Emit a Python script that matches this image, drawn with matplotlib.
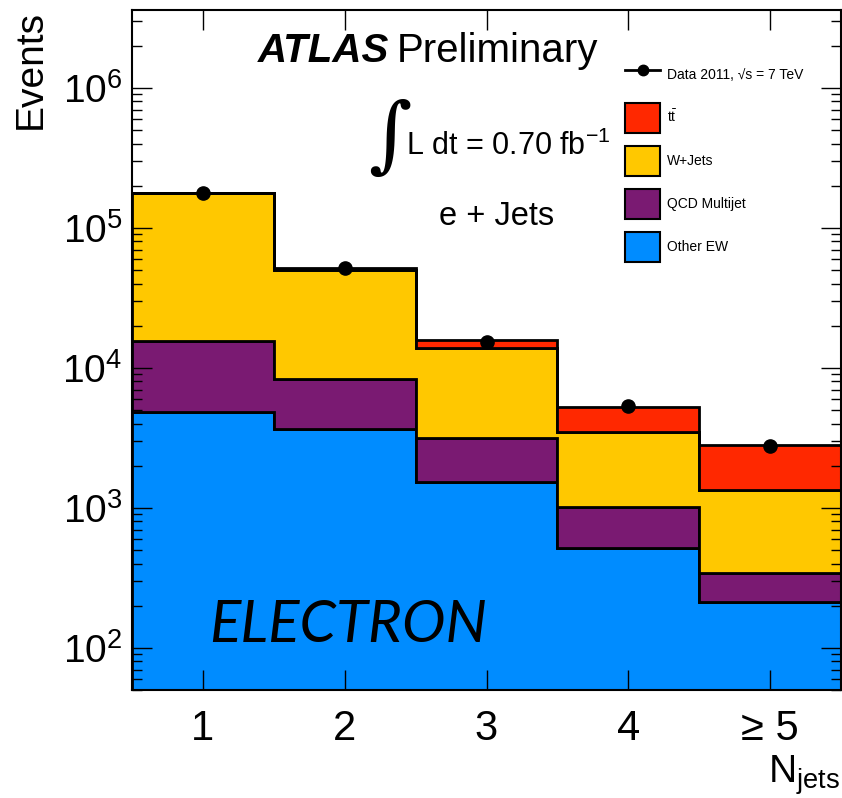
import numpy as np
import matplotlib
matplotlib.use('Agg')
import matplotlib.pyplot as plt
from matplotlib.lines import Line2D
from matplotlib.patches import Patch
from matplotlib.ticker import NullLocator

plt.rcParams['font.family'] = ['Liberation Sans', 'DejaVu Sans']
plt.rcParams['mathtext.fontset'] = 'custom'
plt.rcParams['mathtext.rm'] = 'Liberation Sans'
plt.rcParams['mathtext.it'] = 'Liberation Sans:italic'
plt.rcParams['mathtext.bf'] = 'Liberation Sans:bold'
plt.rcParams['mathtext.sf'] = 'Liberation Sans'

# jet multiplicity bins (last one is inclusive)
njets = [1, 2, 3, 4, 5]
njets_labels = ['1', '2', '3', '4', '\u2265 5']

# stacked MC expectations, bottom to top
other_ew = [4830, 3650, 1540, 520, 214]
qcd = [10600, 4700, 1610, 500, 128]
wjets = [162000, 42000, 10650, 2450, 998]
ttbar = [600, 1500, 2050, 1820, 1450]

# observed events
data = [177000, 52000, 15200, 5300, 2760]

stack = [
    (other_ew, '#008cff', 'Other EW'),
    (qcd, '#7a1a72', 'QCD Multijet'),
    (wjets, '#ffc800', 'W+Jets'),
    (ttbar, '#ff2800', r'$\mathrm{t\bar{t}}$'),
]

W, H = 842, 798


def fx(px):
    return px / W


def fy(py):
    return 1 - py / H


fig = plt.figure(figsize=(W / 100, H / 100), dpi=100)
ax = fig.add_axes([fx(132), fy(690), fx(841) - fx(132), fy(10) - fy(690)])

edges = np.arange(0.5, 6.0, 1.0)
bottom = np.zeros(len(njets))
for vals, color, name in stack:
    top = bottom + np.array(vals, dtype=float)
    ax.stairs(top, edges, baseline=np.maximum(bottom, 1.0), fill=True,
              facecolor=color, edgecolor='black', linewidth=2.0)
    bottom = top

ax.plot(njets, data, 'o', color='black', markersize=9.5, zorder=5)

ax.set_yscale('log')
ax.set_ylim(50, 3.6e6)
ax.set_xlim(0.5, 5.5)
ax.set_xticks(njets)
ax.set_xticklabels(njets_labels)
ax.xaxis.set_minor_locator(NullLocator())

ax.tick_params(which='both', direction='in', top=True, right=True, width=1.0)
ax.tick_params(which='major', length=14.4)
ax.tick_params(which='minor', length=7.2)
ax.tick_params(axis='y', labelsize=28, pad=7)
ax.tick_params(axis='x', labelsize=30, pad=14)
for s in ax.spines.values():
    s.set_linewidth(1.5)

# legend
handles = [Line2D([], [], color='black', marker='o', markersize=7.5, linewidth=2)]
labels = ['Data 2011, \u221as = 7 TeV']
for vals, color, name in reversed(stack):
    handles.append(Patch(facecolor=color, edgecolor='black', linewidth=1.5))
    labels.append(name)
ax.legend(handles, labels, loc='upper left',
          bbox_to_anchor=((625 - 132) / (841 - 132), (690 - 60) / 680),
          frameon=False, fontsize=10, borderpad=0, borderaxespad=0,
          handlelength=2.52, handleheight=2.94, labelspacing=0.94,
          handletextpad=0.5)

# labels and annotations
fig.text(fx(258), fy(62), 'ATLAS', fontsize=29, fontweight='bold',
         fontstyle='italic', va='baseline')
fig.text(fx(397), fy(62), 'Preliminary', fontsize=29, va='baseline')
fig.text(fx(368), fy(139), '\u222b', fontsize=60, va='center',
         family='DejaVu Serif')
fig.text(fx(406), fy(155), r'L dt = 0.70 fb$^{\mathdefault{-1}}$',
         fontsize=22, va='baseline')
fig.text(fx(439), fy(225), 'e + Jets', fontsize=23.5, va='baseline')
fig.text(fx(209), fy(642), 'ELECTRON', fontsize=42, fontstyle='italic',
         family='Lato', va='baseline')
fig.text(fx(31), fy(10), 'Events', fontsize=28, rotation=90,
         ha='center', va='top')
fig.text(fx(840), fy(783), r'N$_{\mathdefault{jets}}$', fontsize=28,
         ha='right', va='baseline')

fig.savefig('out.png', dpi=100)
